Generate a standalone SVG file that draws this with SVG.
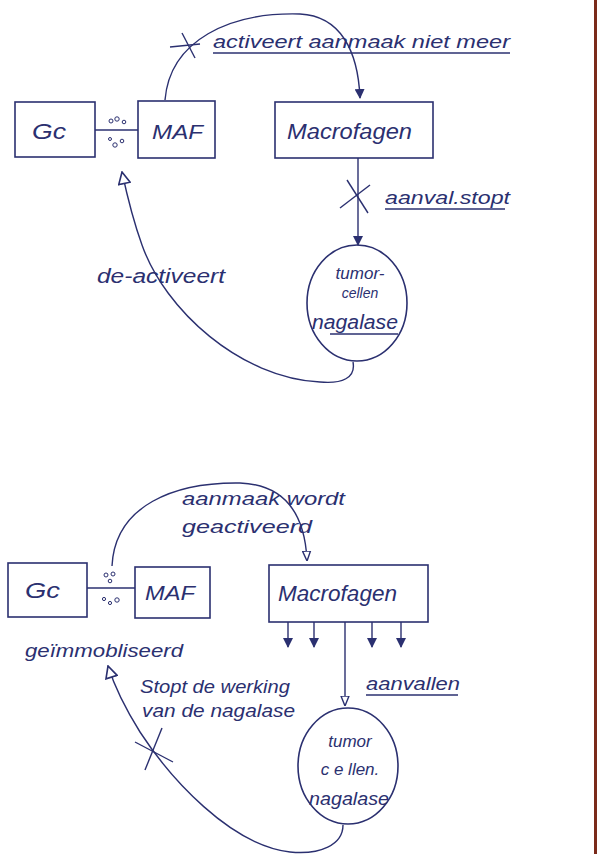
<svg xmlns="http://www.w3.org/2000/svg" width="597" height="854" viewBox="0 0 597 854">
<style>
.box{fill:none;stroke:#2b3070;stroke-width:1.6}
.ln{fill:none;stroke:#2b3070;stroke-width:1.4}
.t{font-family:"Liberation Sans",Arial,sans-serif;font-style:italic;fill:#2b3070}
.u{stroke:#2b3070;stroke-width:1.3}
.dot{fill:none;stroke:#2b3070;stroke-width:1}
</style>
<defs>
<marker id="af" viewBox="0 0 10 10" refX="9" refY="5" markerWidth="10" markerHeight="10" orient="auto" markerUnits="userSpaceOnUse">
<path d="M0,0 L10,5 L0,10 z" fill="#2b3070"/>
</marker>
<marker id="ah" viewBox="0 0 12 12" refX="11" refY="6" markerWidth="14" markerHeight="14" orient="auto" markerUnits="userSpaceOnUse">
<path d="M1,1 L11,6 L1,11 z" fill="#fff" stroke="#2b3070" stroke-width="1.4"/>
</marker>
<marker id="as" viewBox="0 0 10 10" refX="9" refY="5" markerWidth="10" markerHeight="10" orient="auto" markerUnits="userSpaceOnUse">
<path d="M0,1 L10,5 L0,9 z" fill="#fff" stroke="#2b3070" stroke-width="1.4"/>
</marker>
</defs>
<rect width="597" height="854" fill="#ffffff"/>
<rect x="594" y="0" width="3" height="854" fill="#7a2a1a"/>

<!-- TOP DIAGRAM -->
<g id="gc1"><rect class="box" x="15" y="102" width="80" height="55"/><text class="t" x="32" y="139" font-size="22" textLength="34" lengthAdjust="spacingAndGlyphs">Gc</text></g>
<g id="maf1"><rect class="box" x="138" y="101" width="77" height="57"/><text class="t" x="152" y="139" font-size="21" textLength="51" lengthAdjust="spacingAndGlyphs">MAF</text></g>
<g id="macro1"><rect class="box" x="275" y="102" width="158" height="56"/><text class="t" x="287" y="139" font-size="22" textLength="125" lengthAdjust="spacingAndGlyphs">Macrofagen</text></g>
<g id="tumor1"><ellipse class="box" cx="357" cy="303" rx="50" ry="58"/>
<text class="t" x="360" y="279" font-size="17" text-anchor="middle">tumor-</text>
<text class="t" x="360" y="298" font-size="14" text-anchor="middle">cellen</text>
<text class="t" x="312" y="329" font-size="20" textLength="86" lengthAdjust="spacingAndGlyphs">nagalase</text>
<line class="u" x1="330" y1="334" x2="398" y2="334"/></g>
<g id="mol1">
<circle class="dot" cx="111" cy="121" r="2"/><circle class="dot" cx="117" cy="119" r="2.2"/><circle class="dot" cx="124" cy="122" r="1.8"/>
<circle class="dot" cx="110" cy="139" r="1.5"/><circle class="dot" cx="115" cy="145" r="2.2"/><circle class="dot" cx="122" cy="141" r="1.8"/>
</g>
<g id="labels1">
<text class="t" x="213" y="48" font-size="19" textLength="297" lengthAdjust="spacingAndGlyphs">activeert aanmaak niet meer</text>
<line class="u" x1="213" y1="53" x2="510" y2="53"/>
<text class="t" x="385" y="204" font-size="19" textLength="125" lengthAdjust="spacingAndGlyphs">aanval.stopt</text>
<line class="u" x1="385" y1="209" x2="505" y2="209"/>
<text class="t" x="97" y="283" font-size="20" textLength="128" lengthAdjust="spacingAndGlyphs">de-activeert</text>
</g>
<g id="connectors1">
<line class="ln" x1="95" y1="130" x2="138" y2="130"/>
<path class="ln" d="M165,100 C170,40 230,12 300,14 C340,16 358,50 360,98" marker-end="url(#af)"/>
<line class="ln" x1="170" y1="47" x2="200" y2="44"/>
<line class="ln" x1="182" y1="33" x2="195" y2="58"/>
<line class="ln" x1="358" y1="158" x2="358" y2="245" marker-end="url(#af)"/>
<line class="ln" x1="347" y1="180" x2="368" y2="213"/>
<line class="ln" x1="370" y1="185" x2="340" y2="208"/>
<path class="ln" d="M353,362 C356,378 342,384 320,382 C240,378 165,310 142,245 C133,220 128,200 122,172" marker-end="url(#ah)"/>
</g>

<!-- BOTTOM DIAGRAM -->
<g id="gc2"><rect class="box" x="8" y="563" width="79" height="54"/><text class="t" x="25" y="598" font-size="22" textLength="35" lengthAdjust="spacingAndGlyphs">Gc</text></g>
<g id="maf2"><rect class="box" x="135" y="567" width="75" height="51"/><text class="t" x="145" y="600" font-size="21" textLength="50" lengthAdjust="spacingAndGlyphs">MAF</text></g>
<g id="macro2"><rect class="box" x="269" y="565" width="159" height="57"/><text class="t" x="278" y="601" font-size="22" textLength="119" lengthAdjust="spacingAndGlyphs">Macrofagen</text></g>
<g id="tumor2"><ellipse class="box" cx="348" cy="766" rx="50" ry="58"/>
<text class="t" x="350" y="747" font-size="17" text-anchor="middle">tumor</text>
<text class="t" x="350" y="775" font-size="17" text-anchor="middle">c e llen.</text>
<text class="t" x="309" y="805" font-size="19" textLength="80" lengthAdjust="spacingAndGlyphs">nagalase</text></g>
<g id="mol2">
<circle class="dot" cx="106" cy="575" r="2"/><circle class="dot" cx="113" cy="574" r="2"/><circle class="dot" cx="110" cy="581" r="1.8"/>
<circle class="dot" cx="104" cy="599" r="1.6"/><circle class="dot" cx="110" cy="603" r="1.6"/><circle class="dot" cx="117" cy="600" r="2.2"/>
</g>
<g id="labels2">
<text class="t" x="182" y="505" font-size="19" textLength="163" lengthAdjust="spacingAndGlyphs">aanmaak wordt</text>
<text class="t" x="182" y="533" font-size="19" textLength="130" lengthAdjust="spacingAndGlyphs">geactiveerd</text>
<text class="t" x="366" y="690" font-size="19" textLength="94" lengthAdjust="spacingAndGlyphs">aanvallen</text>
<line class="u" x1="366" y1="695" x2="458" y2="695"/>
<text class="t" x="25" y="657" font-size="19" textLength="158" lengthAdjust="spacingAndGlyphs">geïmmobliseerd</text>
<text class="t" x="140" y="693" font-size="19" textLength="150" lengthAdjust="spacingAndGlyphs">Stopt de werking</text>
<text class="t" x="142" y="717" font-size="19" textLength="153" lengthAdjust="spacingAndGlyphs">van de nagalase</text>
</g>
<g id="connectors2">
<line class="ln" x1="87" y1="588" x2="135" y2="588"/>
<path class="ln" d="M112,566 C115,505 175,482 240,483 C290,485 305,520 307,560" marker-end="url(#as)"/>
<line class="ln" x1="288" y1="622" x2="288" y2="647" marker-end="url(#af)"/>
<line class="ln" x1="314" y1="622" x2="314" y2="647" marker-end="url(#af)"/>
<line class="ln" x1="372" y1="622" x2="372" y2="647" marker-end="url(#af)"/>
<line class="ln" x1="401" y1="622" x2="401" y2="647" marker-end="url(#af)"/>
<line class="ln" x1="345" y1="622" x2="345" y2="705" marker-end="url(#as)"/>
<path class="ln" d="M343,825 C343,845 320,855 290,852 C230,845 170,778 140,732 C125,708 115,688 108,666" marker-end="url(#ah)"/>
<line class="ln" x1="162" y1="728" x2="145" y2="770"/>
<line class="ln" x1="135" y1="742" x2="173" y2="762"/>
</g>
</svg>
